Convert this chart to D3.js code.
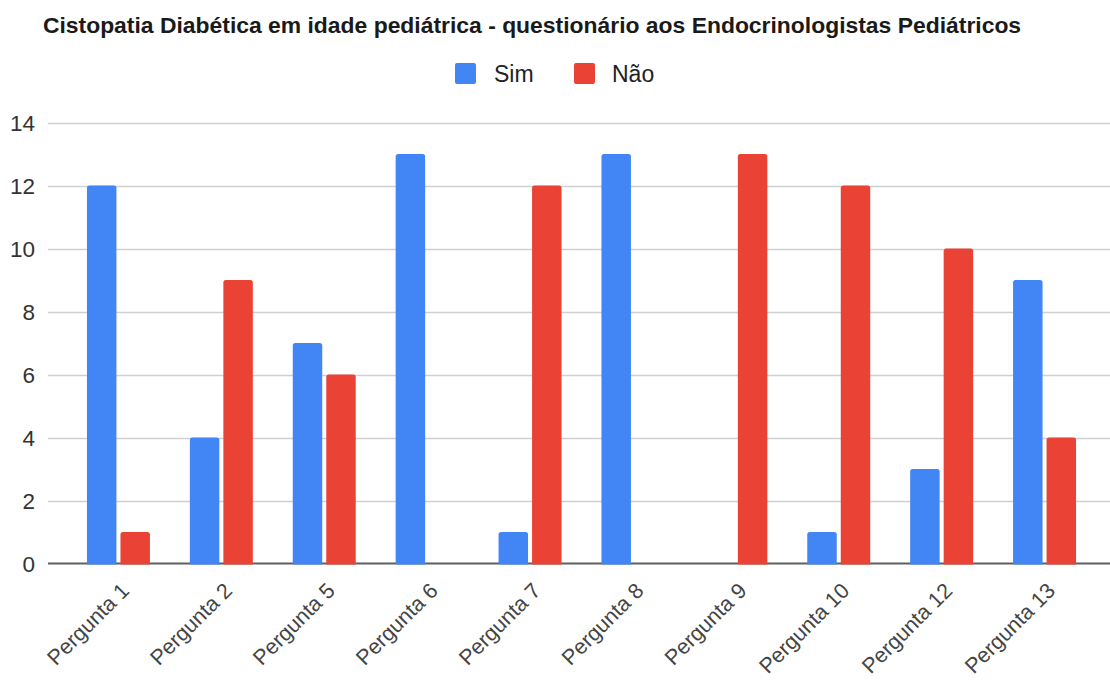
<!DOCTYPE html>
<html>
<head>
<meta charset="utf-8">
<script src="https://cdn.jsdelivr.net/npm/d3@7"></script>
<style>
  html, body { margin: 0; padding: 0; background: #fff; }
  svg { display: block; font-family: Arial, "Liberation Sans", sans-serif; }
</style>
</head>
<body>
<svg id="chart" width="1110" height="680"></svg>
<script>
// Survey answers per question
const categories = ["Pergunta 1", "Pergunta 2", "Pergunta 5", "Pergunta 6", "Pergunta 7",
                    "Pergunta 8", "Pergunta 9", "Pergunta 10", "Pergunta 12", "Pergunta 13"];
const simValues = [12, 4, 7, 13, 1, 13, 0, 1, 3, 9];
const naoValues = [1, 9, 6, 0, 12, 0, 13, 12, 10, 4];
const seriesNames = ["Sim", "Não"];
const seriesColors = ["#4285F4", "#EA4335"];
const yTicks = [0, 2, 4, 6, 8, 10, 12, 14];
const titleText = "Cistopatia Diabética em idade pediátrica - questionário aos Endocrinologistas Pediátricos";

const svg = d3.select("#chart");

const gridLeft = 48, gridRight = 1110;
const x0 = d3.scaleBand()
  .domain(categories)
  .range([67, 1096])
  .paddingInner(0.388)
  .paddingOuter(0.194);
const x1 = d3.scaleBand()
  .domain(seriesNames)
  .range([0, x0.bandwidth()])
  .paddingInner(0.12);
const y = d3.scaleLinear().domain([0, 14]).range([563.5, 122.5]);

// Title
svg.append("text")
  .attr("x", 532).attr("y", 33)
  .attr("text-anchor", "middle")
  .attr("font-size", 22.9).attr("font-weight", "bold")
  .attr("fill", "#1a1a1a")
  .text(titleText);

// Legend
const legend = svg.append("g");
const legendItems = [{ x: 455, tx: 494 }, { x: 574, tx: 612 }];
seriesNames.forEach((name, i) => {
  legend.append("rect")
    .attr("x", legendItems[i].x).attr("y", 63)
    .attr("width", 21).attr("height", 21).attr("rx", 2)
    .attr("fill", seriesColors[i]);
  legend.append("text")
    .attr("x", legendItems[i].tx).attr("y", 82)
    .attr("font-size", 23).attr("fill", "#222")
    .text(name);
});

// Gridlines and y labels
const grid = svg.append("g");
yTicks.filter(t => t !== 0).forEach(t => {
  grid.append("line")
    .attr("x1", gridLeft).attr("x2", gridRight)
    .attr("y1", Math.round(y(t)) + 0.5).attr("y2", Math.round(y(t)) + 0.5)
    .attr("stroke", "#d0d0d0").attr("stroke-width", 1.5);
});
yTicks.forEach(t => {
  svg.append("text")
    .attr("x", 35).attr("y", y(t))
    .attr("dy", "0.36em")
    .attr("text-anchor", "end")
    .attr("font-size", 22.5).attr("fill", "#333")
    .text(t);
});

// Baseline
svg.append("line")
  .attr("x1", gridLeft).attr("x2", gridRight)
  .attr("y1", y(0)).attr("y2", y(0))
  .attr("stroke", "#5f5f5f").attr("stroke-width", 2);

// Bars with slightly rounded top corners
function barPath(x, yTop, w, yBottom, r) {
  const h = yBottom - yTop;
  r = Math.min(r, h, w / 2);
  return `M${x},${yBottom}V${yTop + r}Q${x},${yTop} ${x + r},${yTop}` +
         `H${x + w - r}Q${x + w},${yTop} ${x + w},${yTop + r}V${yBottom}Z`;
}
const rows = categories.map((c, i) => ({ cat: c, values: [simValues[i], naoValues[i]] }));
const groups = svg.append("g").selectAll("g").data(rows).join("g")
  .attr("transform", d => `translate(${x0(d.cat)},0)`);
groups.selectAll("path")
  .data(d => d.values.map((v, i) => ({ v, name: seriesNames[i], color: seriesColors[i] })).filter(e => e.v > 0))
  .join("path")
  .attr("d", e => barPath(x1(e.name), y(e.v), x1.bandwidth(), y(0) + 1, 2.5))
  .attr("fill", e => e.color);

// Rotated category labels
svg.append("g").selectAll("text").data(categories).join("text")
  .attr("transform", c => `translate(${x0(c) + x0.bandwidth() / 2 + 12},${592}) rotate(-45)`)
  .attr("text-anchor", "end")
  .attr("font-size", 21.5).attr("fill", "#444")
  .text(c => c);
</script>
</body>
</html>
